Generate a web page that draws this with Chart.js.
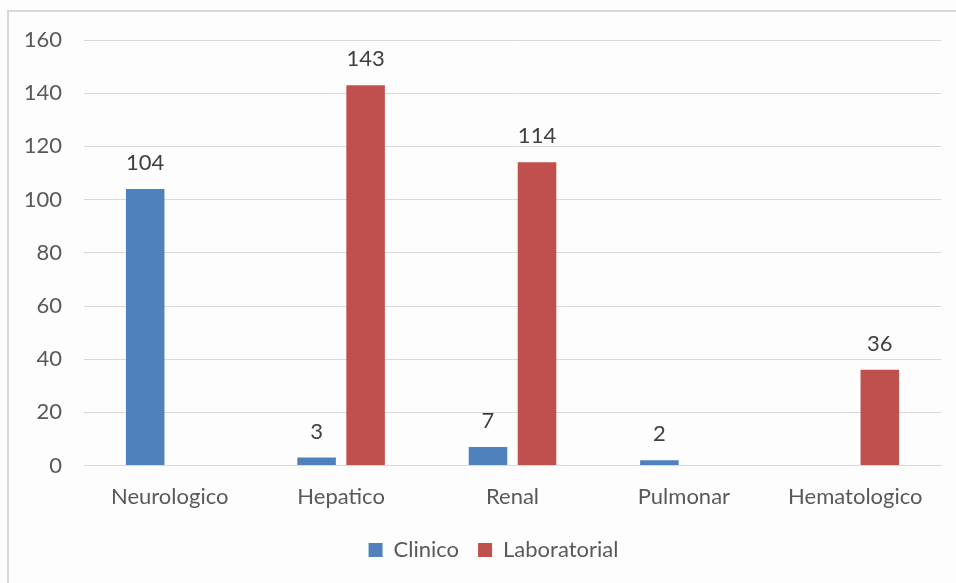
<!DOCTYPE html>
<html>
<head>
<meta charset="utf-8">
<script src="https://cdn.jsdelivr.net/npm/chart.js@4"></script>
<style>
  html, body { margin: 0; padding: 0; background: #fff; }
  #wrap { width: 956px; height: 583px; position: relative; }
</style>
</head>
<body>
<div id="wrap"><canvas id="barChart"></canvas></div>
<script>
const categories = ["Neurologico", "Hepatico", "Renal", "Pulmonar", "Hematologico"];
const clinico = [104, 3, 7, 2, 0];
const laboratorial = [0, 143, 114, 0, 36];
const yTicks = [0, 20, 40, 60, 80, 100, 120, 140, 160];

const textColor = "#595959";
const fontFamily = "Lato, 'Open Sans', sans-serif";
const fontSize = 22;

// frame around the chart (only top/left edges show in the picture)
const framePlugin = {
  id: "frame",
  beforeDraw(chart) {
    const c = chart.ctx;
    c.save();
    c.fillStyle = "#fdfdfd";
    c.fillRect(0, 0, chart.width, chart.height);
    c.strokeStyle = "#d9d9d9";
    c.lineWidth = 2;
    c.beginPath();
    c.moveTo(8, chart.height);
    c.lineTo(8, 11);
    c.lineTo(chart.width, 11);
    c.stroke();
    c.restore();
  }
};

// legend sits a bit right of centre, under the plot area
const legendShift = {
  id: "legendShift",
  afterLayout(chart) {
    const lg = chart.legend;
    if (!lg) return;
    lg.left += 13;
    lg.right += 13;
  }
};

// value labels above bars
const valueLabels = {
  id: "valueLabels",
  afterDatasetsDraw(chart) {
    const c = chart.ctx;
    c.save();
    c.fillStyle = "#404040";
    c.font = fontSize + "px " + fontFamily;
    c.textAlign = "center";
    c.textBaseline = "middle";
    chart.data.datasets.forEach((ds, i) => {
      const meta = chart.getDatasetMeta(i);
      meta.data.forEach((bar, j) => {
        const v = ds.data[j];
        if (!v) return;
        c.fillText(String(v), bar.x, bar.y - 26);
      });
    });
    c.restore();
  }
};

new Chart(document.getElementById("barChart").getContext("2d"), {
  type: "bar",
  data: {
    labels: categories,
    datasets: [
      { label: "Clinico", data: clinico, backgroundColor: "#4f81bd" },
      { label: "Laboratorial", data: laboratorial, backgroundColor: "#c0504d" }
    ]
  },
  options: {
    responsive: true,
    maintainAspectRatio: false,
    animation: false,
    categoryPercentage: 0.572,
    barPercentage: 0.786,
    layout: { padding: { top: 40, right: 15, left: 20, bottom: 12 } },
    plugins: {
      legend: {
        position: "bottom",
        labels: {
          color: textColor,
          boxWidth: 14,
          boxHeight: 14,
          padding: 19,
          font: { family: fontFamily, size: fontSize }
        }
      },
      tooltip: { enabled: false }
    },
    scales: {
      x: {
        grid: { display: false },
        border: { color: "#d9d9d9" },
        ticks: { color: textColor, padding: 10, font: { family: fontFamily, size: fontSize } }
      },
      y: {
        min: 0,
        max: 160,
        afterFit(scale) { scale.width = 64; },
        afterBuildTicks(scale) { scale.ticks = yTicks.map(v => ({ value: v })); },
        grid: { color: "#d9d9d9", drawTicks: false },
        border: { display: false },
        ticks: { color: textColor, padding: 22, font: { family: fontFamily, size: fontSize } }
      }
    }
  },
  plugins: [framePlugin, legendShift, valueLabels]
});
</script>
</body>
</html>
